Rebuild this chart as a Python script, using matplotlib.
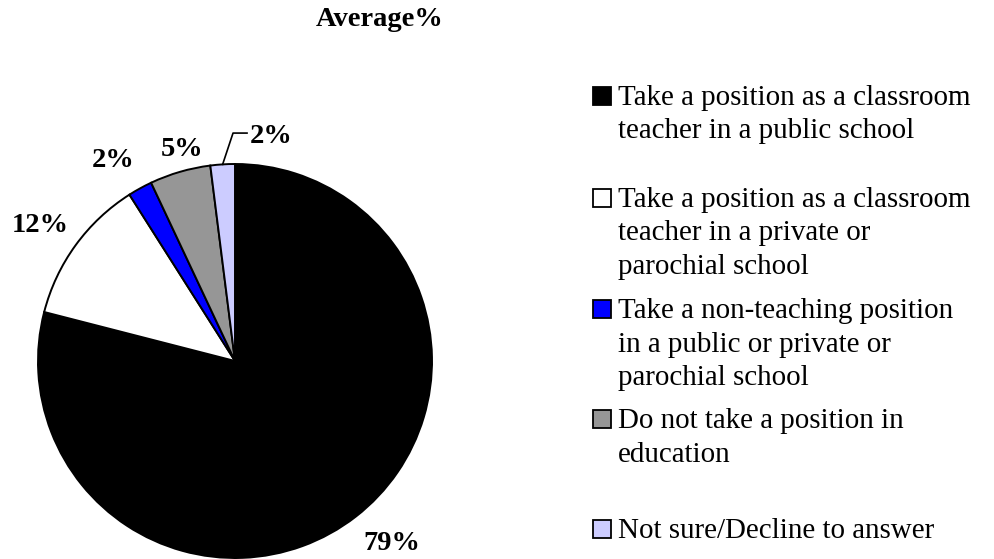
import matplotlib.pyplot as plt
from matplotlib.patches import Rectangle
import numpy as np

plt.rcParams['font.family'] = ['Liberation Serif', 'DejaVu Serif']

title = "Average%"
categories = [
    "Take a position as a classroom\nteacher in a public school",
    "Take a position as a classroom\nteacher in a private or\nparochial school",
    "Take a non-teaching position\nin a public or private or\nparochial school",
    "Do not take a position in\neducation",
    "Not sure/Decline to answer",
]
shares = [79, 12, 2, 5, 2]
colors = ["#000000", "#ffffff", "#0000ff", "#969696", "#ccccff"]

# percentage label centres, in units of the pie radius
label_pos = [(0.797, -0.924), (-0.990, 0.690), (-0.619, 1.020),
             (-0.269, 1.076), (0.183, 1.142)]
# baseline of the first line of each legend entry (pixels from top)
legend_rows = [105, 207, 318, 428, 538]
line_step = 33.5

W, H = 994, 559
fig = plt.figure(figsize=(W / 100, H / 100), dpi=100)

# pie centre and radius in pixels
cx, cy, R = 235, 361, 197
ax = fig.add_axes([(cx - R) / W, 1 - (cy + R) / H, 2 * R / W, 2 * R / H])
wedges, _ = ax.pie(shares, colors=colors, startangle=90, counterclock=False,
                   wedgeprops=dict(edgecolor='black', linewidth=1.4, clip_on=False))
ax.set_xlim(-1, 1)
ax.set_ylim(-1, 1)
ax.set_aspect('equal')
ax.axis('off')

for v, (x, y) in zip(shares, label_pos):
    ax.text(x, y, "{0}%".format(v), ha='center', va='center',
            fontsize=20.5, fontweight='bold')

# leader line for the small last slice
w = wedges[-1]
ang = np.deg2rad((w.theta1 + w.theta2) / 2)
lx, ly = label_pos[-1]
end_x = lx - 0.122
ax.plot([np.cos(ang), end_x - 0.071, end_x], [np.sin(ang), ly + 0.015, ly + 0.015],
        color='black', lw=1.2, clip_on=False)

fig.text(380 / W, 1 - 20 / H, title, ha='center', va='center',
         fontsize=20.5, fontweight='bold')

# legend drawn by hand so the rows sit where they should
for label, color, y0 in zip(categories, colors, legend_rows):
    fig.add_artist(Rectangle((593 / W, 1 - y0 / H), 18 / W, 18 / H,
                             transform=fig.transFigure, facecolor=color,
                             edgecolor='black', lw=1.3))
    for j, line in enumerate(label.split('\n')):
        fig.text(618 / W, 1 - (y0 + j * line_step) / H, line,
                 va='baseline', fontsize=20.9)

plt.savefig("out.png", dpi=100)
